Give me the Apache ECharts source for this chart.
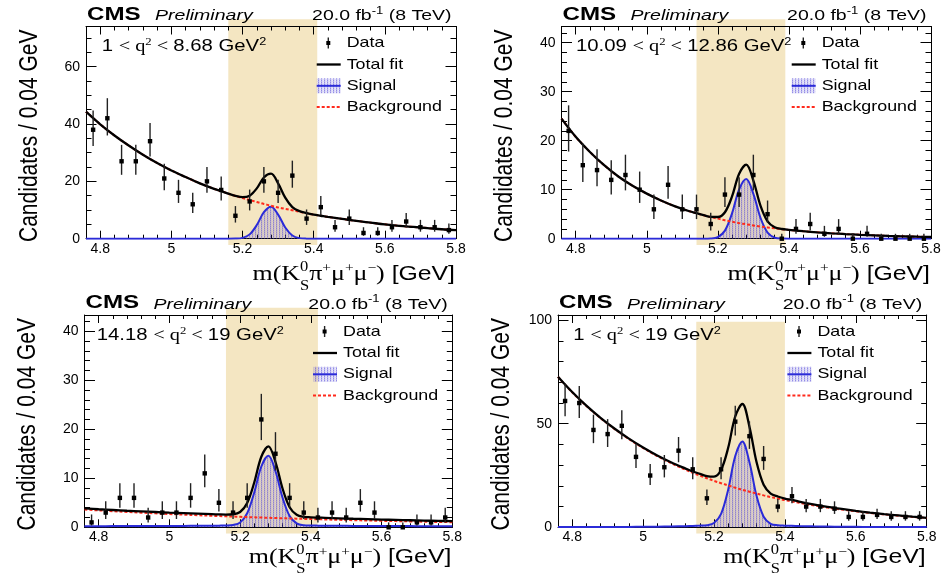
<!DOCTYPE html>
<html>
<head>
<meta charset="utf-8">
<title>m(K0S π+ μ+ μ−) fits in bins of q²</title>
<script src="https://cdn.jsdelivr.net/npm/echarts@6/dist/echarts.min.js"></script>
<style>
  html, body { margin: 0; padding: 0; background: #ffffff; }
  #chart { width: 943px; height: 575px; }
</style>
</head>
<body>
<div id="chart"></div>
<script>
// ---------- candidate counts per 0.04 GeV mass bin ----------
const massBinCenters = [4.78, 4.82, 4.86, 4.90, 4.94, 4.98, 5.02, 5.06, 5.10, 5.14, 5.18, 5.22, 5.26,
                        5.30, 5.34, 5.38, 5.42, 5.46, 5.50, 5.54, 5.58, 5.62, 5.66, 5.70, 5.74, 5.78];
const countsQ2Low  = [38, 42, 27, 27, 34, 21, 16, 12, 20, 17, 8, 13, 20, 16, 22, 7, 11, 4, 7, 2, 2, 4, 6, 4, 4, 3];
const countsQ2Mid  = [22, 15, 14, 12, 13, 10, 6, 11, 6, 6, 3, 9, 9, 13, 5, 0, 2, 3, 1, 2, 0, 1, 0, 0, 0, 0];
const countsQ2High = [1, 3, 6, 6, 2, 3, 3, 6, 11, 5, 3, 6, 22, 15, 6, 3, 2, 3, 2, 5, 3, 0, 0, 1, 1, 2];
const countsQ2Full = [61, 60, 47, 45, 49, 34, 25, 29, 37, 28, 14, 28, 51, 44, 33, 10, 15, 10, 10, 9, 5, 5, 6, 5, 5, 5];

// ---------- fit components sampled along the mass axis ----------
const fitMass = [4.76, 4.80, 4.84, 4.88, 4.92, 4.96, 5.00, 5.04, 5.08, 5.12,
                 5.14, 5.16, 5.18, 5.20, 5.22, 5.24, 5.26, 5.28, 5.30, 5.32, 5.34, 5.36, 5.38, 5.40, 5.42, 5.44,
                 5.48, 5.52, 5.56, 5.60, 5.64, 5.68, 5.72, 5.76, 5.80];

const bkgQ2Low = [44.3, 39.9, 36.0, 32.5, 29.3, 26.4, 23.8, 21.5, 19.3, 17.4,
                  16.6, 15.7, 14.9, 14.2, 13.5, 12.8, 12.1, 11.5, 10.9, 10.4, 9.9, 9.4, 8.9, 8.4, 8.0, 7.6,
                  6.9, 6.2, 5.6, 5.0, 4.5, 4.1, 3.7, 3.3, 3.0];
const sigQ2Low = [0, 0, 0, 0, 0, 0, 0, 0, 0, 0,
                  0, 0, 0.04, 0.30, 1.51, 4.75, 9.24, 11.18, 8.40, 3.92, 1.14, 0.20, 0.02, 0, 0, 0,
                  0, 0, 0, 0, 0, 0, 0, 0, 0];

const bkgQ2Mid = [24.5, 20.8, 17.7, 15.0, 12.7, 10.8, 9.2, 7.8, 6.6, 5.6,
                  5.2, 4.8, 4.4, 4.1, 3.75, 3.46, 3.18, 2.94, 2.71, 2.49, 2.30, 2.12, 1.95, 1.80, 1.66, 1.53,
                  1.30, 1.10, 0.94, 0.80, 0.68, 0.57, 0.49, 0.41, 0.35];
const sigQ2Mid = [0, 0, 0, 0, 0, 0, 0, 0, 0, 0,
                  0, 0, 0.04, 0.33, 1.65, 5.17, 10.07, 12.18, 9.15, 4.27, 1.24, 0.22, 0.03, 0, 0, 0,
                  0, 0, 0, 0, 0, 0, 0, 0, 0];

const bkgQ2High = [3.62, 3.45, 3.29, 3.13, 2.99, 2.85, 2.71, 2.59, 2.47, 2.35,
                   2.29, 2.24, 2.19, 2.14, 2.08, 2.03, 1.99, 1.94, 1.89, 1.85, 1.80, 1.76, 1.72, 1.68, 1.64, 1.60,
                   1.53, 1.45, 1.39, 1.32, 1.26, 1.20, 1.14, 1.09, 1.04];
const sigQ2High = [0.22, 0.23, 0.24, 0.25, 0.26, 0.27, 0.28, 0.29, 0.31, 0.33,
                   0.34, 0.36, 0.47, 0.98, 2.86, 7.10, 12.40, 14.57, 11.43, 6.06, 2.30, 0.80, 0.42, 0.36, 0.34, 0.33,
                   0.31, 0.29, 0.27, 0.26, 0.25, 0.24, 0.23, 0.22, 0.21];

const bkgQ2Full = [72.6, 65.2, 58.6, 52.7, 47.4, 42.6, 38.3, 34.4, 30.9, 27.8,
                   26.3, 25.0, 23.7, 22.4, 21.3, 20.2, 19.1, 18.1, 17.2, 16.3, 15.4, 14.6, 13.9, 13.1, 12.5, 11.8,
                   10.6, 9.5, 8.6, 7.7, 6.9, 6.2, 5.6, 5.0, 4.5];
const sigQ2Full = [0.10, 0.10, 0.12, 0.14, 0.16, 0.20, 0.24, 0.30, 0.40, 0.55,
                   0.65, 0.81, 1.03, 2.04, 6.47, 18.17, 34.41, 41.42, 31.38, 15.18, 5.12, 1.69, 0.98, 0.80, 0.70, 0.60,
                   0.45, 0.35, 0.28, 0.22, 0.18, 0.15, 0.13, 0.11, 0.10];

// ---------- axes, signal windows and labels ----------
const massRange = [4.76, 5.80];
const xTickValues = [4.8, 5.0, 5.2, 5.4, 5.6, 5.8];
const yTicksQ2Low = [0, 20, 40, 60];
const yTicksQ2Mid = [0, 10, 20, 30, 40];
const yTicksQ2High = [0, 10, 20, 30, 40];
const yTicksQ2Full = [0, 50, 100];
const yMaxima = [74, 43.3, 43.3, 102.5];
const yMinorSteps = [5, 2, 2, 10];
const signalWindows = [[5.16, 5.41], [5.14, 5.39], [5.16, 5.42], [5.15, 5.40]];
const q2Edges = [['1', '8.68'], ['10.09', '12.86'], ['14.18', '19'], ['1', '19']];
const legendNames = ['Data', 'Total fit', 'Signal', 'Background'];

// ---------- layout of the four frames (pixels) ----------
const frames = [
  { left: 86,    top: 26.5, right: 456,   bottom: 238.7, q2dx: 15.7, titleDy: 42.5, bandTop: -7.2 },
  { left: 561.5, top: 26.5, right: 931,   bottom: 238.7, q2dx: 14.5, titleDy: 42.5, bandTop: -7.2 },
  { left: 84.5,  top: 315,  right: 452.3, bottom: 527.3, q2dx: 12.2, titleDy: 37.5, bandTop: -7.3 },
  { left: 558,   top: 315,  right: 926.7, bottom: 527.3, q2dx: 15.3, titleDy: 37.5, bandTop: 6.7 }
];

const panels = [
  { counts: countsQ2Low,  bkg: bkgQ2Low,  sig: sigQ2Low,  yTicks: yTicksQ2Low },
  { counts: countsQ2Mid,  bkg: bkgQ2Mid,  sig: sigQ2Mid,  yTicks: yTicksQ2Mid },
  { counts: countsQ2High, bkg: bkgQ2High, sig: sigQ2High, yTicks: yTicksQ2High },
  { counts: countsQ2Full, bkg: bkgQ2Full, sig: sigQ2Full, yTicks: yTicksQ2Full }
];

const SANS = '"Liberation Sans", Arial, Helvetica, sans-serif';
const SERIF = '"Liberation Serif", "Times New Roman", serif';
const BLUE = '#2b2bd8';
const RED = '#ff2a1c';
const BAND = '#f4e6c2';

// fine blue hatching used for the signal component
function makeHatch() {
  const c = document.createElement('canvas');
  c.width = 3; c.height = 2;
  const g = c.getContext('2d');
  g.fillStyle = 'rgba(80,70,215,0.62)'; g.fillRect(0, 0, 1, 1);
  g.fillStyle = 'rgba(80,70,215,0.42)'; g.fillRect(0, 1, 1, 1);
  g.fillStyle = 'rgba(80,70,215,0.20)'; g.fillRect(1, 0, 1, 2); g.fillRect(2, 1, 1, 1);
  g.fillStyle = 'rgba(80,70,215,0.10)'; g.fillRect(2, 0, 1, 1);
  return c;
}
const hatch = makeHatch();

// approximate 68% Poisson interval of a count
function poissonErrors(n) {
  const r = Math.sqrt(n + 0.25);
  return [n > 0 ? r - 0.5 : 0, r + 0.5];
}

function pairs(xs, ys) { return xs.map((x, k) => [x, ys[k]]); }

function steps(from, to, step, skip) {
  const out = [];
  for (let k = 0; ; k++) {
    const v = Math.round((from + k * step) * 1000) / 1000;
    if (v > to + 1e-9) break;
    if (!skip.some(s => Math.abs(s - v) < 1e-6)) out.push(v);
  }
  return out;
}

function xAxisDef(i, pos, ticks, len, withLabels, withLine) {
  return {
    gridIndex: i, type: 'value', min: massRange[0], max: massRange[1], position: pos, z: 2,
    axisLine: { show: withLine, onZero: false, lineStyle: { color: '#000', width: 1 } },
    axisTick: { show: true, inside: true, length: len, customValues: ticks, lineStyle: { color: '#000', width: 1 } },
    axisLabel: withLabels
      ? { show: true, customValues: ticks, margin: 3, color: '#000', fontSize: 14, fontFamily: SANS,
          formatter: v => String(Math.round(v * 100) / 100) }
      : { show: false },
    splitLine: { show: false }, minorTick: { show: false }
  };
}

function yAxisDef(i, pos, max, ticks, len, withLabels, withLine) {
  return {
    gridIndex: i, type: 'value', min: 0, max: max, position: pos, z: 2,
    axisLine: { show: withLine, onZero: false, lineStyle: { color: '#000', width: 1 } },
    axisTick: { show: true, inside: true, length: len, customValues: ticks, lineStyle: { color: '#000', width: 1 } },
    axisLabel: withLabels
      ? { show: true, customValues: ticks, margin: 6, color: '#000', fontSize: 14, fontFamily: SANS,
          formatter: v => String(v) }
      : { show: false },
    splitLine: { show: false }, minorTick: { show: false }
  };
}

const grid = [], xAxis = [], yAxis = [], series = [];
const xMinor = steps(4.80, 5.80, 0.04, xTickValues);

panels.forEach((p, i) => {
  const f = frames[i];
  grid.push({ left: f.left, top: f.top, width: f.right - f.left, height: f.bottom - f.top,
              show: false, outerBoundsMode: 'none' });
  const yMinor = steps(0, yMaxima[i], yMinorSteps[i], p.yTicks);

  xAxis.push(xAxisDef(i, 'bottom', xTickValues, 8, true, true));
  xAxis.push(xAxisDef(i, 'bottom', xMinor, 4, false, false));
  xAxis.push(xAxisDef(i, 'top', xTickValues, 8, false, true));
  xAxis.push(xAxisDef(i, 'top', xMinor, 4, false, false));
  yAxis.push(yAxisDef(i, 'left', yMaxima[i], p.yTicks, 10.5, true, true));
  yAxis.push(yAxisDef(i, 'left', yMaxima[i], yMinor, 5.5, false, false));
  yAxis.push(yAxisDef(i, 'right', yMaxima[i], p.yTicks, 10.5, false, true));
  yAxis.push(yAxisDef(i, 'right', yMaxima[i], yMinor, 5.5, false, false));

  const ax = { xAxisIndex: 4 * i, yAxisIndex: 4 * i };
  series.push(Object.assign({
    type: 'line', name: 'Signal', data: pairs(fitMass, p.sig), smooth: 0.35, symbol: 'none', silent: true, z: 3,
    lineStyle: { color: BLUE, width: 2 },
    areaStyle: { color: { image: hatch, repeat: 'repeat' }, opacity: 1 }
  }, ax));
  series.push(Object.assign({
    type: 'line', name: 'Background', data: pairs(fitMass, p.bkg), smooth: 0.35, symbol: 'none', silent: true, z: 4,
    lineStyle: { color: RED, width: 2, type: [3, 2] }
  }, ax));
  series.push(Object.assign({
    type: 'line', name: 'Total fit',
    data: fitMass.map((x, k) => [x, Math.round((p.bkg[k] + p.sig[k]) * 1000) / 1000]),
    smooth: 0.35, symbol: 'none', silent: true, z: 5,
    lineStyle: { color: '#000', width: 2.3 }
  }, ax));
  series.push(Object.assign({
    type: 'custom', name: 'Data', data: pairs(massBinCenters, p.counts), silent: true, z: 6,
    encode: { x: 0, y: 1 },
    renderItem: (params, api) => {
      const x = api.value(0), n = api.value(1);
      const [lo, hi] = poissonErrors(n);
      const c = api.coord([x, n]);
      const top = api.coord([x, n + hi]);
      const bot = api.coord([x, n - lo]);
      return {
        type: 'group',
        children: [
          { type: 'line', shape: { x1: c[0], y1: top[1], x2: c[0], y2: bot[1] },
            style: { stroke: '#222', lineWidth: 1.4 } },
          { type: 'rect', shape: { x: c[0] - 2.2, y: c[1] - 2.2, width: 4.4, height: 4.4 },
            style: { fill: '#000' } }
        ]
      };
    }
  }, ax));
});

const chart = echarts.init(document.getElementById('chart'), null, { renderer: 'canvas' });
chart.setOption({ animation: false, backgroundColor: '#ffffff', grid, xAxis, yAxis, series });

// ---------- text runs with mixed fonts, super- and subscripts ----------
const measurer = document.createElement('canvas').getContext('2d');
function fontOf(t) {
  return (t.style ? t.style + ' ' : '') + (t.weight ? t.weight + ' ' : '') + t.size + 'px ' + t.family;
}
function textRun(tokens, x, baseline, scale, align) {
  let cursor = 0;
  const kids = [];
  tokens.forEach(tok => {
    const parts = Array.isArray(tok) ? tok : [tok];
    let adv = 0;
    parts.forEach(p => {
      const font = fontOf(p);
      measurer.font = font;
      adv = Math.max(adv, measurer.measureText(p.t).width);
      kids.push({
        type: 'text', x: cursor, y: (p.dy || 0) - 0.34 * p.size, z: 10, silent: true,
        style: { text: p.t, font: font, fill: '#000', align: 'left', verticalAlign: 'middle' }
      });
    });
    cursor += adv;
  });
  const left = align === 'right' ? x - cursor * scale : x;
  return { type: 'group', x: left, y: baseline, scaleX: scale, z: 10, silent: true, children: kids };
}

function q2Tokens(lo, hi) {
  return [
    { t: lo + ' ', size: 16, family: SANS },
    { t: '<', size: 16, family: SERIF },
    { t: ' q', size: 16, family: SERIF },
    { t: '2', size: 10, family: SERIF, dy: -6.5 },
    { t: ' < ', size: 16, family: SERIF },
    { t: hi + ' GeV', size: 16, family: SANS },
    { t: '2', size: 10, family: SANS, dy: -6.5 }
  ];
}

const xTitleTokens = [
  { t: 'm(K', size: 22, family: SERIF },
  [{ t: '0', size: 14, family: SERIF, dy: -9.5 }, { t: 'S', size: 14, family: SERIF, dy: 9.5 }],
  { t: 'π', size: 22, family: SERIF },
  { t: '+', size: 13, family: SERIF, dy: -8 },
  { t: 'μ', size: 22, family: SERIF },
  { t: '+', size: 13, family: SERIF, dy: -8 },
  { t: 'μ', size: 22, family: SERIF },
  { t: '−', size: 13, family: SERIF, dy: -8 },
  { t: ')', size: 22, family: SERIF },
  { t: ' [GeV]', size: 21, family: SANS }
];

const lumiTokens = [
  { t: '20.0 fb', size: 15, family: SANS },
  { t: '-1', size: 10, family: SANS, dy: -6.5 },
  { t: ' (8 TeV)', size: 15, family: SANS }
];

const elements = [];
panels.forEach((p, i) => {
  const f = frames[i];
  const L = f.left, R = f.right, T = f.top, B = f.bottom;

  // signal window band
  const a = chart.convertToPixel({ gridIndex: i }, [signalWindows[i][0], 0]);
  const b = chart.convertToPixel({ gridIndex: i }, [signalWindows[i][1], 0]);
  const bandTop = T + f.bandTop, bandBottom = B + 6.3;
  elements.push({ type: 'rect', z: 1, silent: true,
    shape: { x: a[0], y: bandTop, width: b[0] - a[0], height: bandBottom - bandTop },
    style: { fill: BAND } });

  // header
  elements.push(textRun([{ t: 'CMS', size: 19, family: SANS, weight: 'bold' }], L + 1, T - 5.5, 1.27, 'left'));
  elements.push(textRun([{ t: 'Preliminary', size: 15.5, family: SANS, style: 'italic' }], L + 69, T - 5.5, 1.26, 'left'));
  elements.push(textRun(lumiTokens, R - 4.5, T - 5.5, 1.3, 'right'));

  // q2 range
  elements.push(textRun(q2Tokens(q2Edges[i][0], q2Edges[i][1]), L + f.q2dx, T + 25.8, 1.27, 'left'));

  // axis titles
  elements.push(textRun(xTitleTokens, R - 1, B + f.titleDy, 1.18, 'right'));
  elements.push({ type: 'text', x: L - 56.5, y: T + 3, rotation: Math.PI / 2, scaleY: 1.25, z: 10, silent: true,
    style: { text: 'Candidates / 0.04 GeV', font: '21px ' + SANS, fill: '#000', align: 'right', verticalAlign: 'middle' } });

  // legend
  const symL = R - 139.3, symW = 24, mx = R - 127.7, tx = R - 109.3;
  const rows = [T + 16.5, T + 38, T + 59.3, T + 80.6];
  elements.push({ type: 'line', z: 10, silent: true,
    shape: { x1: mx, y1: rows[0] - 5.5, x2: mx, y2: rows[0] + 5.5 }, style: { stroke: '#222', lineWidth: 1.4 } });
  elements.push({ type: 'rect', z: 10, silent: true,
    shape: { x: mx - 2, y: rows[0] - 2, width: 4, height: 4 }, style: { fill: '#000' } });
  elements.push({ type: 'line', z: 10, silent: true,
    shape: { x1: symL, y1: rows[1], x2: symL + symW, y2: rows[1] }, style: { stroke: '#000', lineWidth: 2.3 } });
  elements.push({ type: 'rect', z: 10, silent: true,
    shape: { x: symL, y: rows[2] - 7.5, width: symW, height: 15 }, style: { fill: { image: hatch, repeat: 'repeat' } } });
  elements.push({ type: 'line', z: 11, silent: true,
    shape: { x1: symL, y1: rows[2], x2: symL + symW, y2: rows[2] }, style: { stroke: BLUE, lineWidth: 2 } });
  elements.push({ type: 'line', z: 10, silent: true,
    shape: { x1: symL, y1: rows[3], x2: symL + symW, y2: rows[3] }, style: { stroke: RED, lineWidth: 2, lineDash: [3, 2] } });
  legendNames.forEach((name, k) => {
    elements.push({ type: 'text', x: tx, y: rows[k], scaleX: 1.23, z: 10, silent: true,
      style: { text: name, font: '14.5px ' + SANS, fill: '#000', align: 'left', verticalAlign: 'middle' } });
  });
});

chart.setOption({ graphic: { elements } });
</script>
</body>
</html>
